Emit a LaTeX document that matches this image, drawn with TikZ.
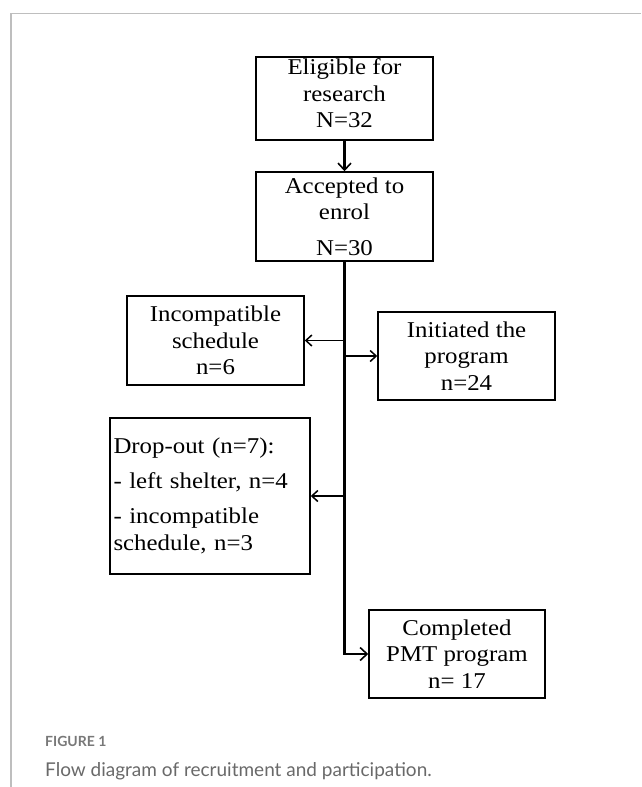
\documentclass[tikz,border=0pt]{standalone}
\usepackage{fontspec}
\setmainfont{Liberation Serif}[FakeStretch=1.1]
\newfontfamily\capfont{Lato}
\usetikzlibrary{arrows.meta,positioning}
\definecolor{FrameGray}{RGB}{190,190,190}
\definecolor{CapGray}{RGB}{105,105,105}
\definecolor{LabelGray}{RGB}{120,120,120}

\begin{document}
\begin{tikzpicture}[
      x=1pt,y=-1pt,
      flowBox/.style={draw,line width=1.5pt,minimum width=177pt,minimum height=89pt,
                      inner sep=2pt,align=center,
                      font=\fontsize{22.6}{26.5}\selectfont},
      arTrunk/.style={-{Straight Barb[length=7pt,width=13pt,line width=1.6pt]},line width=2.6pt},
      arSide/.style={-{Straight Barb[length=6pt,width=11pt]},line width=1.5pt}
    ]
    \useasboundingbox (0,0) rectangle (641,787);

    % card frame
    \draw[FrameGray,line width=1.8pt] (641,13.5) -- (11,13.5) -- (11,787);

    % main column
    \node(elig)[flowBox,minimum height=79pt,text depth=10pt] at (344.5,98.5) {%
      Eligible for\\research\\N=32};
    \node(acc)[flowBox] at (344.5,216.5) {%
      Accepted to\\enrol\\[9pt]N=30};

    % side boxes
    \node(incomp)[flowBox] at (215.5,340.5) {%
      Incompatible\\schedule\\n=6};
    \node(init)[flowBox,minimum height=88pt] at (466.5,356) {%
      Initiated the\\program\\n=24};
    \node(drop)[flowBox,minimum width=200pt,minimum height=156pt,align=left,
                text width=193pt,inner xsep=3.5pt] at (210,496) {%
      Drop-out (n=7):\\[8pt]- left shelter, n=4\\[9pt]- incompatible\\schedule, n=3};
    \node(done)[flowBox,minimum width=176pt,minimum height=88pt] at (457,654) {%
      Completed\\PMT program\\n= 17};

    % connectors
    \draw[arTrunk] (elig) -- (acc);
    \draw[arTrunk] (acc.south) |- (done.west);
    \draw[arSide] (acc.south |- incomp.east) -- (incomp.east);
    \draw[arSide] (acc.south |- init.west) -- (init.west);
    \draw[arSide] (acc.south |- drop.east) -- (drop.east);

    % caption
    \node(figno)[anchor=west,inner sep=0pt,text=LabelGray,
                 font=\capfont\bfseries\fontsize{14}{16}\selectfont] at (45,741) {FIGURE 1};
    \node(figcap)[anchor=west,inner sep=0pt,text=CapGray,
                  font=\capfont\fontsize{19}{22}\selectfont] at (45,771)
      {Flow diagram of recruitment and participation.};
  \end{tikzpicture}
\end{document}
